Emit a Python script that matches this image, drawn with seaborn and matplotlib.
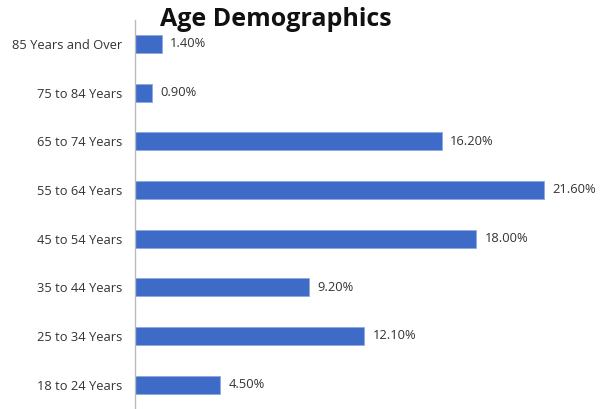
import matplotlib
matplotlib.use("Agg")
import matplotlib.pyplot as plt
import seaborn as sns
import pandas as pd

groups = ["85 Years and Over", "75 to 84 Years", "65 to 74 Years", "55 to 64 Years",
          "45 to 54 Years", "35 to 44 Years", "25 to 34 Years", "18 to 24 Years"]
shares = [1.4, 0.9, 16.2, 21.6, 18.0, 9.2, 12.1, 4.5]

BAR_COLOR = "#3E6BC8"

sns.set_style("white")
plt.rcParams["font.family"] = ["Open Sans", "DejaVu Sans"]

df = pd.DataFrame({"group": groups, "share": shares})

fig = plt.figure(figsize=(6.02, 4.09), dpi=100)
ax = fig.add_axes([135 / 602, 0.0, 1 - 135 / 602, 1 - 19.6 / 409])

sns.barplot(data=df, x="share", y="group", color=BAR_COLOR, width=0.37,
            edgecolor="#8FA9DD", linewidth=0.6, ax=ax, saturation=1)

for i, v in enumerate(shares):
    ax.text(v + 0.45, i, f"{v:.2f}%", va="center", ha="left",
            fontsize=9.3, color="#333333")

ax.set_xlim(0, 24.66)
ax.set_ylim(7.5, -0.5)
ax.set_xlabel("")
ax.set_ylabel("")
ax.set_xticks([])
ax.tick_params(axis="y", length=0, pad=9, labelsize=9.3, labelcolor="#333333")
for s in ["top", "right", "bottom"]:
    ax.spines[s].set_visible(False)
ax.spines["left"].set_color("#BBBBBB")
ax.spines["left"].set_linewidth(1)

fig.text(276 / 602, 1 - 19 / 409, "Age Demographics", ha="center", va="center",
         fontsize=18, fontweight="bold", color="#111111")

fig.savefig("out.png", dpi=100, facecolor="white")
